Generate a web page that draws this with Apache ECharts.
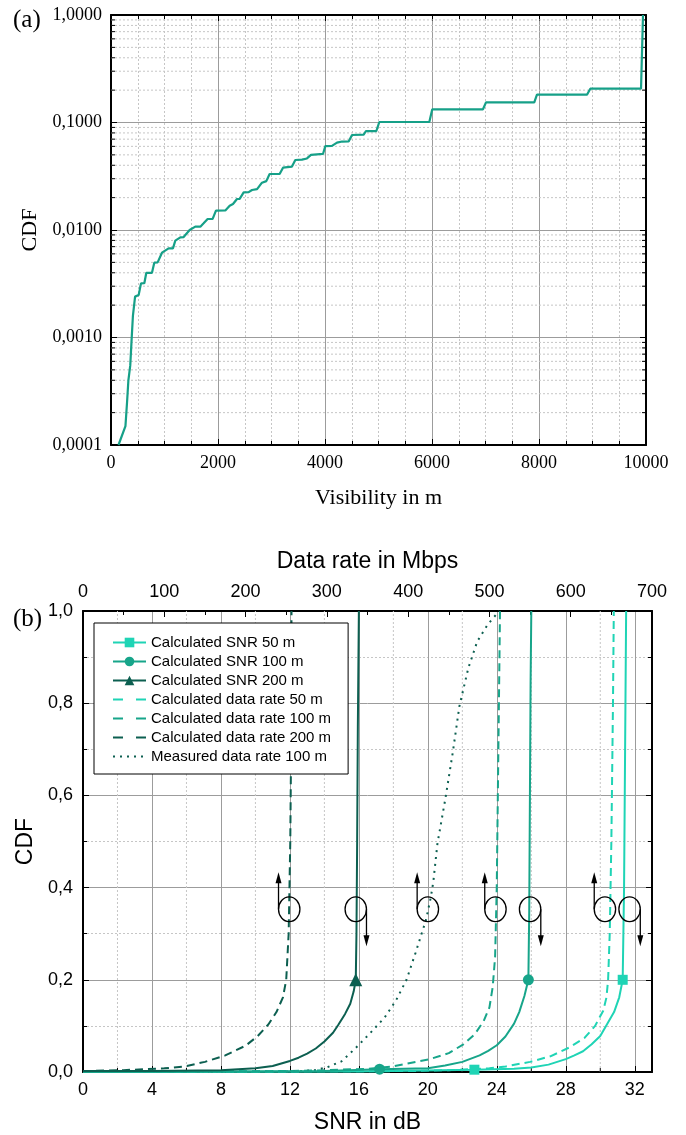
<!DOCTYPE html>
<html>
<head>
<meta charset="utf-8">
<script src="https://cdn.jsdelivr.net/npm/echarts@6/dist/echarts.min.js"></script>
<style>
  html, body { margin: 0; padding: 0; background: #fff; }
  #chart { width: 686px; height: 1135px; }
</style>
</head>
<body>
<div id="chart"></div>
<script>
// ---- (a) visibility CDF (step-like curve) ----
const visA = [140, 270, 300, 325, 360, 385, 410, 450, 517, 561, 623, 660, 766, 809, 872, 953, 1077, 1158,
  1202, 1296, 1358, 1470, 1576, 1670, 1731, 1806, 1900, 1962, 2137, 2218, 2280, 2355, 2405, 2480, 2573,
  2636, 2730, 2822, 2903, 2965, 3152, 3215, 3383, 3445, 3570, 3663, 3738, 3963, 4006, 4130, 4224, 4318,
  4442, 4505, 4723, 4766, 4960, 5015, 5950, 6005, 6953, 7009, 7912, 7962, 8897, 8959, 9907, 9944];
const cdfA = [0.0001, 0.00015, 0.00025, 0.0004, 0.00055, 0.00095, 0.0016, 0.0024, 0.00248, 0.00319, 0.0032,
  0.0040, 0.0040, 0.00497, 0.0050, 0.00615, 0.00675, 0.00675, 0.00796, 0.00855, 0.0086, 0.0100, 0.01074,
  0.01074, 0.01154, 0.01265, 0.0127, 0.01513, 0.0152, 0.01683, 0.01746, 0.01942, 0.0195, 0.0224, 0.0225,
  0.02355, 0.0240, 0.02754, 0.0285, 0.0332, 0.0332, 0.0380, 0.0389, 0.0448, 0.0452, 0.0463, 0.0499, 0.0510,
  0.0604, 0.0606, 0.0649, 0.0665, 0.0667, 0.0765, 0.0770, 0.0833, 0.0833, 0.1011, 0.1011, 0.1327, 0.1327,
  0.1541, 0.1541, 0.1815, 0.1815, 0.2063, 0.2063, 1.0];
const decadesA = [0.0001, 0.001, 0.01, 0.1];

// ---- (b) SNR curves (bottom axis, dB) ----
const snr50X = [0, 16, 22.7, 25, 26, 27, 28, 28.5, 29, 29.5, 30, 30.4, 30.8, 31.1, 31.3, 31.38, 31.44, 31.5];
const snr50Y = [0, 0.001, 0.005, 0.007, 0.010, 0.016, 0.028, 0.036, 0.045, 0.060, 0.078, 0.104, 0.13, 0.162, 0.2, 0.4, 0.7, 1.0];
const snr50Marks = [22.7, 31.3];
const snr100X = [0, 8, 14, 17.2, 20, 21, 22, 23, 23.5, 24, 24.5, 25, 25.3, 25.6, 25.83, 25.88, 25.92, 25.96, 26.0];
const snr100Y = [0, 0.001, 0.002, 0.006, 0.008, 0.014, 0.022, 0.036, 0.046, 0.058, 0.077, 0.105, 0.13, 0.165, 0.2, 0.35, 0.6, 0.85, 1.0];
const snr100Marks = [17.2, 25.83];
const snr200X = [0, 4, 8, 10, 11, 12, 12.5, 13, 13.5, 14, 14.5, 14.8, 15.2, 15.5, 15.7, 15.82, 15.86, 15.9, 15.94, 16.0];
const snr200Y = [0.002, 0.002, 0.004, 0.008, 0.013, 0.024, 0.031, 0.040, 0.051, 0.066, 0.085, 0.102, 0.126, 0.148, 0.175, 0.2, 0.3, 0.5, 0.75, 1.0];
const snr200Marks = [15.82];

// ---- (b) data rate curves (top axis, Mbps) ----
const rate50X = [0, 400, 450, 500, 520, 550, 575, 598, 617, 630, 640, 644, 646, 648, 650, 652, 653];
const rate50Y = [0, 0.002, 0.004, 0.008, 0.012, 0.022, 0.034, 0.053, 0.074, 0.1, 0.133, 0.162, 0.2, 0.3, 0.5, 0.8, 1.0];
const rate100X = [0, 250, 300, 350, 380, 425, 450, 468, 482, 493, 500, 504, 507, 509, 511, 513];
const rate100Y = [0, 0.002, 0.004, 0.007, 0.012, 0.027, 0.041, 0.06, 0.082, 0.111, 0.14, 0.184, 0.25, 0.4, 0.7, 1.0];
const rate200X = [0, 50, 100, 125, 150, 175, 200, 215, 228, 238, 246, 250, 253, 255, 256, 256.5];
const rate200Y = [0.002, 0.004, 0.008, 0.012, 0.022, 0.036, 0.057, 0.078, 0.103, 0.13, 0.162, 0.2, 0.3, 0.5, 0.7, 1.0];
const measX = [0, 200, 260, 285, 300, 318, 336, 352, 371, 385, 398, 409, 422, 428, 431, 436, 446, 455, 463, 474, 485, 498, 512];
const measY = [0, 0, 0.001, 0.004, 0.01, 0.023, 0.053, 0.082, 0.118, 0.155, 0.2, 0.258, 0.33, 0.38, 0.413, 0.495, 0.595, 0.694, 0.793, 0.876, 0.934, 0.971, 1.0];

// loop annotations: SNR position and arrow direction (1 = up, -1 = down)
const loopSnr = [11.96, 15.82, 20.0, 23.92, 25.93, 30.27, 31.7];
const loopDir = [1, -1, 1, 1, -1, 1, -1];
const loopCdf = 0.353;
const snrMinor = [2, 6, 10, 14, 18, 22, 26, 30];

const C50 = '#1fd4b5', C100 = '#17a58a', C200 = '#0c5f50', CA = '#16a088';
const SERIF = 'Liberation Serif', SANS = 'Liberation Sans';
const GRID_MAJOR = '#9c9c9c', GRID_MINOR = '#c6c6c6';

const zip = (xs, ys) => xs.map((x, i) => [x, ys[i]]);
function withMarks(xs, ys, marks) {
  return xs.map((x, i) => marks.includes(x) ? { value: [x, ys[i]] } : { value: [x, ys[i]], symbol: 'none' });
}

const minorA = [];
decadesA.forEach(d => { for (let k = 2; k <= 9; k++) minorA.push([0, d * k]); });

const chart = echarts.init(document.getElementById('chart'), null, { renderer: 'canvas' });

const frame = { show: true, onZero: false, lineStyle: { color: '#000', width: 2 } };
const tickIn = (len) => ({ show: true, inside: true, length: len, lineStyle: { color: '#000', width: 1 } });
const minorIn = (n) => ({ show: true, splitNumber: n, length: 4, lineStyle: { color: '#000', width: 1 } });
const fmt = (d) => (v) => Number(v).toFixed(d).replace('.', ',');

// legend: line-only entries hide the symbol that ECharts adds by default
const noMark = { opacity: 0 };
const legendB = [
  { name: 'Calculated SNR 50 m' },
  { name: 'Calculated SNR 100 m' },
  { name: 'Calculated SNR 200 m' },
  { name: 'Calculated data rate 50 m', itemStyle: noMark, lineStyle: { type: [10, 13] } },
  { name: 'Calculated data rate 100 m', itemStyle: noMark, lineStyle: { type: [10, 13] } },
  { name: 'Calculated data rate 200 m', itemStyle: noMark, lineStyle: { type: [10, 13] } },
  { name: 'Measured data rate 100 m', itemStyle: noMark, lineStyle: { type: [2, 5] } }
];

const option = {
  animation: false,
  backgroundColor: '#fff',
  grid: [
    { left: 111, top: 15, width: 535, height: 430 },
    { left: 83, top: 611, width: 569, height: 463 }
  ],
  graphic: [
    { type: 'text', left: 13, top: 8, style: { text: '(a)', font: '25px "Liberation Serif"', fill: '#000' } },
    { type: 'text', left: 13, top: 607, style: { text: '(b)', font: '25px "Liberation Serif"', fill: '#000' } }
  ],
  legend: {
    data: legendB,
    orient: 'vertical',
    left: 94, top: 623,
    padding: [12, 17, 10, 18],
    itemWidth: 33, itemHeight: 12, itemGap: 4,
    backgroundColor: '#fff', borderColor: '#000', borderWidth: 1, borderRadius: 0,
    textStyle: { fontFamily: SANS, fontSize: 15, color: '#000', lineHeight: 15 },
    selectedMode: false
  },
  xAxis: [
    { // (a) bottom
      gridIndex: 0, type: 'value', min: 0, max: 10000, interval: 2000,
      name: 'Visibility in m', nameLocation: 'middle', nameGap: 42,
      nameTextStyle: { fontFamily: SERIF, fontSize: 22, color: '#000' },
      axisLine: frame, axisTick: tickIn(6), minorTick: minorIn(4),
      axisLabel: { fontFamily: SERIF, fontSize: 18, color: '#000', margin: 9, formatter: v => String(v) },
      splitLine: { show: true, showMinLine: false, showMaxLine: false, lineStyle: { color: GRID_MAJOR, width: 1 } },
      minorSplitLine: { show: true, lineStyle: { color: GRID_MINOR, width: 1, type: [2, 2] } }
    },
    { // (a) top frame
      gridIndex: 0, type: 'value', position: 'top', min: 0, max: 10000, interval: 2000,
      axisLine: frame, axisTick: tickIn(6), minorTick: minorIn(4),
      axisLabel: { show: false }, splitLine: { show: false }
    },
    { // (b) bottom SNR
      gridIndex: 1, type: 'value', min: 0, max: 33, interval: 4,
      name: 'SNR in dB', nameLocation: 'middle', nameGap: 39,
      nameTextStyle: { fontFamily: SANS, fontSize: 23, color: '#000' },
      axisLine: frame, axisTick: tickIn(6),
      axisLabel: { fontFamily: SANS, fontSize: 18, color: '#000', margin: 9, showMaxLabel: false,
        formatter: v => (v % 4 === 0 ? String(v) : '') },
      splitLine: { show: true, showMinLine: false, showMaxLine: false, lineStyle: { color: GRID_MAJOR, width: 1 } }
    },
    { // (b) top data rate
      gridIndex: 1, type: 'value', position: 'top', min: 0, max: 700, interval: 100,
      name: 'Data rate in Mbps', nameLocation: 'middle', nameGap: 38,
      nameTextStyle: { fontFamily: SANS, fontSize: 23, color: '#000' },
      axisLine: frame, axisTick: tickIn(6), minorTick: minorIn(2),
      axisLabel: { fontFamily: SANS, fontSize: 18, color: '#000', margin: 10 },
      splitLine: { show: false }
    }
  ],
  yAxis: [
    { // (a) left log
      gridIndex: 0, type: 'log', logBase: 10, min: 0.0001, max: 1,
      name: 'CDF', nameLocation: 'middle', nameGap: 70, nameRotate: 90,
      nameTextStyle: { fontFamily: SERIF, fontSize: 22, color: '#000' },
      axisLine: frame, axisTick: tickIn(6),
      axisLabel: { fontFamily: SERIF, fontSize: 18, color: '#000', margin: 9, formatter: fmt(4) },
      splitLine: { show: true, showMinLine: false, showMaxLine: false, lineStyle: { color: GRID_MAJOR, width: 1 } },
      minorTick: { show: false }, minorSplitLine: { show: false }
    },
    { // (a) right frame
      gridIndex: 0, type: 'log', logBase: 10, min: 0.0001, max: 1, position: 'right',
      axisLine: frame, axisTick: tickIn(6), axisLabel: { show: false }, splitLine: { show: false }
    },
    { // (b) left
      gridIndex: 1, type: 'value', min: 0, max: 1, interval: 0.2,
      name: 'CDF', nameLocation: 'middle', nameGap: 43, nameRotate: 90,
      nameTextStyle: { fontFamily: SANS, fontSize: 23, color: '#000' },
      axisLine: frame, axisTick: tickIn(6), minorTick: minorIn(2),
      axisLabel: { fontFamily: SANS, fontSize: 18, color: '#000', margin: 10, formatter: fmt(1) },
      splitLine: { show: true, showMinLine: false, showMaxLine: false, lineStyle: { color: GRID_MAJOR, width: 1 } },
      minorSplitLine: { show: true, lineStyle: { color: GRID_MINOR, width: 1, type: [2, 2] } }
    },
    { // (b) right frame
      gridIndex: 1, type: 'value', min: 0, max: 1, interval: 0.2, position: 'right',
      axisLine: frame, axisTick: tickIn(6), minorTick: minorIn(2),
      axisLabel: { show: false }, splitLine: { show: false }
    }
  ],
  series: [
    { // (a) minor log grid + ticks
      type: 'custom', xAxisIndex: 0, yAxisIndex: 0, z: 1, silent: true, clip: false,
      data: minorA,
      renderItem: (params, api) => {
        const v = api.value(1);
        const p0 = api.coord([0, v]);
        const p1 = api.coord([10000, v]);
        return { type: 'group', children: [
          { type: 'line', shape: { x1: p0[0], y1: p0[1], x2: p1[0], y2: p1[1] },
            style: { stroke: GRID_MINOR, lineWidth: 1, lineDash: [2, 2] } },
          { type: 'line', shape: { x1: p0[0], y1: p0[1], x2: p0[0] + 4, y2: p0[1] }, style: { stroke: '#000', lineWidth: 1 } },
          { type: 'line', shape: { x1: p1[0] - 4, y1: p1[1], x2: p1[0], y2: p1[1] }, style: { stroke: '#000', lineWidth: 1 } }
        ] };
      }
    },
    {
      type: 'line', xAxisIndex: 0, yAxisIndex: 0, z: 3,
      data: zip(visA, cdfA), showSymbol: false,
      lineStyle: { color: CA, width: 2.2 }
    },
    { // (b) minor SNR grid + ticks
      type: 'custom', xAxisIndex: 2, yAxisIndex: 2, z: 1, silent: true, clip: false,
      data: snrMinor.map(v => [v, 0]),
      renderItem: (params, api) => {
        const v = api.value(0);
        const p0 = api.coord([v, 0]);
        const p1 = api.coord([v, 1]);
        return { type: 'group', children: [
          { type: 'line', shape: { x1: p0[0], y1: p0[1], x2: p1[0], y2: p1[1] },
            style: { stroke: GRID_MINOR, lineWidth: 1, lineDash: [2, 2] } },
          { type: 'line', shape: { x1: p0[0], y1: p0[1], x2: p0[0], y2: p0[1] - 4 }, style: { stroke: '#000', lineWidth: 1 } }
        ] };
      }
    },
    {
      name: 'Calculated data rate 50 m', type: 'line', xAxisIndex: 3, yAxisIndex: 2, z: 2,
      data: zip(rate50X, rate50Y), showSymbol: false, symbol: 'none',
      itemStyle: { color: C50 }, lineStyle: { color: C50, width: 2, type: [8, 5] }
    },
    {
      name: 'Calculated data rate 100 m', type: 'line', xAxisIndex: 3, yAxisIndex: 2, z: 2,
      data: zip(rate100X, rate100Y), showSymbol: false, symbol: 'none',
      itemStyle: { color: C100 }, lineStyle: { color: C100, width: 2, type: [8, 5] }
    },
    {
      name: 'Calculated data rate 200 m', type: 'line', xAxisIndex: 3, yAxisIndex: 2, z: 2,
      data: zip(rate200X, rate200Y), showSymbol: false, symbol: 'none',
      itemStyle: { color: C200 }, lineStyle: { color: C200, width: 2, type: [8, 5] }
    },
    {
      name: 'Measured data rate 100 m', type: 'line', xAxisIndex: 3, yAxisIndex: 2, z: 2,
      data: zip(measX, measY), showSymbol: false, symbol: 'none',
      itemStyle: { color: C200 }, lineStyle: { color: C200, width: 2, type: [2, 5] }
    },
    {
      name: 'Calculated SNR 50 m', type: 'line', xAxisIndex: 2, yAxisIndex: 2, z: 3,
      data: withMarks(snr50X, snr50Y, snr50Marks), showSymbol: true, symbol: 'rect', symbolSize: 10,
      itemStyle: { color: C50 }, lineStyle: { color: C50, width: 2 }
    },
    {
      name: 'Calculated SNR 100 m', type: 'line', xAxisIndex: 2, yAxisIndex: 2, z: 3,
      data: withMarks(snr100X, snr100Y, snr100Marks), showSymbol: true, symbol: 'circle', symbolSize: 11,
      itemStyle: { color: C100 }, lineStyle: { color: C100, width: 2 }
    },
    {
      name: 'Calculated SNR 200 m', type: 'line', xAxisIndex: 2, yAxisIndex: 2, z: 3,
      data: withMarks(snr200X, snr200Y, snr200Marks), showSymbol: true, symbol: 'triangle', symbolSize: 13,
      itemStyle: { color: C200 }, lineStyle: { color: C200, width: 2 }
    },
    { // loop + arrow annotations
      type: 'custom', xAxisIndex: 2, yAxisIndex: 2, z: 4, silent: true, clip: false,
      data: loopSnr.map((s, i) => [s, loopCdf, loopDir[i]]),
      renderItem: (params, api) => {
        const c = api.coord([api.value(0), api.value(1)]);
        const dir = api.value(2);
        const rx = 10.7, ry = 12.4, len = 37;
        const ax = dir > 0 ? c[0] - rx : c[0] + rx;
        const tipY = c[1] - dir * len;
        return { type: 'group', children: [
          { type: 'ellipse', shape: { cx: c[0], cy: c[1], rx: rx, ry: ry },
            style: { fill: 'none', stroke: '#000', lineWidth: 1.3 } },
          { type: 'line', shape: { x1: ax, y1: c[1], x2: ax, y2: tipY + dir * 9 },
            style: { stroke: '#000', lineWidth: 1.3 } },
          { type: 'polygon', shape: { points: [[ax, tipY], [ax - 3, tipY + dir * 11], [ax + 3, tipY + dir * 11]] },
            style: { fill: '#000' } }
        ] };
      }
    }
  ]
};

chart.setOption(option);
</script>
</body>
</html>
